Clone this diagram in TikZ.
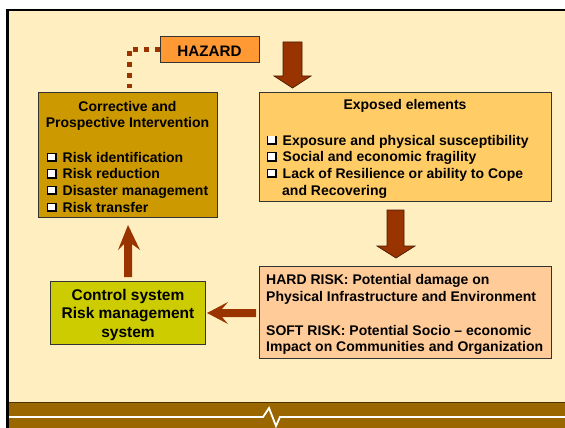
\documentclass[tikz,border=0pt]{standalone}
\usepackage{fontspec}
\setmainfont{Liberation Sans}
\usetikzlibrary{calc}
\definecolor{cream}{HTML}{FFEFC0}
\definecolor{corrfill}{HTML}{CC9900}
\definecolor{expfill}{HTML}{FFCC66}
\definecolor{riskfill}{HTML}{FFCC99}
\definecolor{ctrlfill}{HTML}{CCCC00}
\definecolor{hazfill}{HTML}{FF9933}
\definecolor{arrowfill}{HTML}{993300}
\definecolor{arrowline}{HTML}{4D1A00}
\definecolor{bandfill}{HTML}{996600}
\definecolor{bandline}{HTML}{4D3300}
\definecolor{boxline}{HTML}{333333}
\newcommand\cbx{\makebox[15.5pt][l]{\rlap{\textcolor{black}{\rule{9.5pt}{9.5pt}}}\rlap{\kern1pt\raisebox{2pt}{\textcolor{white}{\rule{6.5pt}{6.5pt}}}}}}
\tikzset{
  boxnode/.style={draw=boxline, line width=0.9pt, anchor=north west, inner sep=0pt},
  txt/.style={font=\bfseries\fontsize{14}{16.7}\selectfont, inner sep=0pt, anchor=base west},
  ctxt/.style={txt, anchor=base},
  bigtxt/.style={font=\bfseries\fontsize{15.5}{18.5}\selectfont, inner sep=0pt, anchor=base},
  blockarrow/.style={fill=arrowfill, draw=arrowline, line width=0.7pt},
  plainarrow/.style={fill=arrowfill},
  dotline/.style={draw=arrowfill, line width=5pt, dash pattern=on 5pt off 6pt}
}
\begin{document}
\begin{tikzpicture}[x=1pt,y=-1pt]
\useasboundingbox (0,0) rectangle (565,428);
\clip (0,0) rectangle (565,428);
\fill[white] (0,0) rectangle (565,428);
% slide frame
\draw[black, line width=2.6pt, fill=cream] (7.5,10) rectangle (600,460);
% bottom band
\fill[bandfill] (9,402) rectangle (600,460);
\draw[bandline, line width=1pt] (9,402.5) -- (600,402.5);
\draw[white, line width=1.8pt, line join=miter] (9,417) -- (263,417) -- (269,408) -- (276,426) -- (280,417) -- (600,417);

% boxes
\node[boxnode, fill=hazfill, minimum width=99pt, minimum height=26pt] (haz) at (160,36) {};
\node[boxnode, fill=corrfill, minimum width=179pt, minimum height=125pt] (corr) at (38,92) {};
\node[boxnode, fill=expfill, minimum width=292pt, minimum height=109pt] (exp) at (259,92) {};
\node[boxnode, fill=riskfill, minimum width=292pt, minimum height=92pt] (risk) at (259,266) {};
\node[boxnode, fill=ctrlfill, minimum width=155pt, minimum height=63pt] (ctrl) at (50,281) {};

% hazard text
\node[bigtxt, font=\bfseries\fontsize{15.2}{18}\selectfont] (haztxt) at (209.5,57) {HAZARD};

% dotted connector from hazard to corrective box
\coordinate (dotend) at (129,88);
\draw[dotline] (haz.west) -| (dotend);

% corrective text
\node[ctxt] (c1) at (127.5,111) {Corrective and};
\node[ctxt] (c2) at (127.5,127.5) {Prospective Intervention};
\node[txt] (c3) at (47,162) {\cbx Risk identification};
\node[txt] (c4) at (47,178.7) {\cbx Risk reduction};
\node[txt] (c5) at (47,195.3) {\cbx Disaster management};
\node[txt] (c6) at (47,212) {\cbx Risk transfer};

% exposed text
\node[ctxt] (e1) at (405,110) {Exposed elements};
\node[txt] (e2) at (267,145) {\cbx Exposure and physical susceptibility};
\node[txt] (e3) at (267,161.5) {\cbx Social and economic fragility};
\node[txt] (e4) at (267,178) {\cbx Lack of Resilience or ability to Cope};
\node[txt] (e5) at (282,195) {and Recovering};

% risk text
\node[txt] (r1) at (266,284) {HARD RISK: Potential damage on};
\node[txt] (r2) at (266,301) {Physical Infrastructure and Environment};
\node[txt] (r3) at (266,335) {SOFT RISK: Potential Socio -- economic};
\node[txt] (r4) at (266,351.5) {Impact on Communities and Organization};

% control text
\node[bigtxt] (k1) at (128,300) {Control system};
\node[bigtxt] (k2) at (128,318.5) {Risk management};
\node[bigtxt] (k3) at (128,337) {system};

% block arrows
\draw[blockarrow] (283,42) -- (302,42) -- (302,76) -- (311,76) -- (292.5,88) -- (274,76) -- (283,76) -- cycle;
\draw[blockarrow] (387,210) -- (404,210) -- (404,246) -- (415,246) -- (396,258) -- (377,246) -- (387,246) -- cycle;
\fill[plainarrow] (124,277) -- (124,244) -- (118,250) -- (128,225) -- (140,250) -- (132,244) -- (132,277) -- cycle;
\fill[plainarrow] (256,309) -- (222,309) -- (228,302) -- (207,313) -- (228,324) -- (222,317) -- (256,317) -- cycle;
\end{tikzpicture}
\end{document}
